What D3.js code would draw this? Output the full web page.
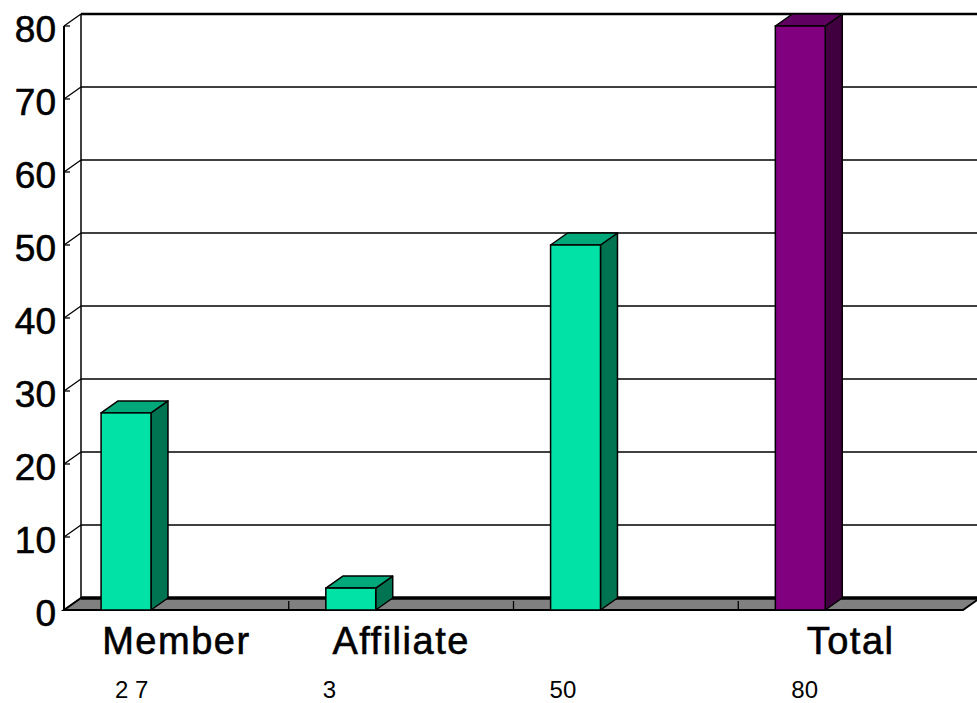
<!DOCTYPE html>
<html>
  <head>
    <meta charset="utf-8">
    <title>Members</title>
    <script src="https://d3js.org/d3.v7.min.js"></script>
    <style>
      body { margin: 0; background: #fff; }
      text { font-family: "Liberation Sans", Arial, sans-serif; fill: #000; }
    </style>
  </head>
  <body>
    <script>
      // data
      const categories = ["Member", "Affiliate", "", "Total"];
      const values = [27, 3, 50, 80];
      const valueLabels = ["2 7", "3", "50", "80"];
      const yTicks = [0, 10, 20, 30, 40, 50, 60, 70, 80];

      const width = 977, height = 703;
      // depth of the 3d box
      const depth = { dx: 17, dy: -12 };

      const svg = d3.select("body")
        .append("svg")
        .attr("width", width)
        .attr("height", height);

      const x = d3.scaleBand()
        .domain(d3.range(categories.length))
        .range([64, 963])
        .padding(0);

      const y = d3.scaleLinear()
        .domain([0, 80])
        .range([610, 26]);

      const bw = x.bandwidth();
      const barOff = bw * 0.165, barW = bw * 0.222;

      const x0 = x.range()[0], x1 = x.range()[1];

      // back wall gridlines
      svg.append("g").selectAll("line")
        .data(yTicks.filter(d => d > 0))
        .join("line")
        .attr("x1", x0 + depth.dx)
        .attr("x2", width + 5)
        .attr("y1", d => y(d) + depth.dy)
        .attr("y2", d => y(d) + depth.dy)
        .attr("stroke", "#000")
        .attr("stroke-width", d => d === 80 ? 2.5 : 1.5);

      // back wall left edge
      svg.append("line")
        .attr("x1", x0 + depth.dx).attr("x2", x0 + depth.dx)
        .attr("y1", y(80) + depth.dy).attr("y2", y(0) + depth.dy)
        .attr("stroke", "#000").attr("stroke-width", 1.5);

      // side wall diagonals + ticks
      const side = svg.append("g");
      side.selectAll(".diag")
        .data(yTicks)
        .join("line")
        .attr("class", "diag")
        .attr("x1", x0).attr("y1", d => y(d))
        .attr("x2", x0 + depth.dx).attr("y2", d => y(d) + depth.dy)
        .attr("stroke", "#000").attr("stroke-width", 1.3);
      side.selectAll(".tk")
        .data(yTicks)
        .join("line")
        .attr("class", "tk")
        .attr("x1", x0).attr("y1", d => y(d))
        .attr("x2", x0 + 6).attr("y2", d => y(d))
        .attr("stroke", "#000").attr("stroke-width", 1.3);

      // front axis line
      svg.append("line")
        .attr("x1", x0).attr("x2", x0)
        .attr("y1", y(80)).attr("y2", y(0))
        .attr("stroke", "#000").attr("stroke-width", 2);

      // y tick labels
      svg.append("g").selectAll("text")
        .data(yTicks)
        .join("text")
        .attr("x", 56)
        .attr("y", d => y(d) + 3)
        .attr("text-anchor", "end")
        .attr("dominant-baseline", "central")
        .attr("font-size", 37)
        .attr("stroke", "#000").attr("stroke-width", 0.6)
        .text(d => d);

      // floor
      const fy = y(0);
      svg.append("path")
        .attr("d", `M${x0},${fy} L${x1},${fy} L${x1 + depth.dx},${fy + depth.dy} L${x0 + depth.dx},${fy + depth.dy} Z`)
        .attr("fill", "#808080")
        .attr("stroke", "#000")
        .attr("stroke-width", 2);
      svg.append("line")
        .attr("x1", x0 + depth.dx).attr("x2", width + 5)
        .attr("y1", fy + depth.dy).attr("y2", fy + depth.dy)
        .attr("stroke", "#000").attr("stroke-width", 3.5);

      // category ticks on the floor front edge
      svg.append("g").selectAll("line")
        .data(d3.range(1, categories.length))
        .join("line")
        .attr("x1", d => x(d)).attr("x2", d => x(d))
        .attr("y1", fy).attr("y2", fy - 9)
        .attr("stroke", "#000").attr("stroke-width", 1.3);

      // bars
      const colors = [
        { front: "#00E2A6", top: "#00A87A", side: "#007350" },
        { front: "#00E2A6", top: "#00A87A", side: "#007350" },
        { front: "#00E2A6", top: "#00A87A", side: "#007350" },
        { front: "#800080", top: "#600060", side: "#400040" }
      ];
      const bars = svg.append("g").selectAll("g")
        .data(values)
        .join("g");
      bars.append("path") // side
        .attr("d", (d, i) => {
          const bx = x(i) + barOff + barW, ty = y(d);
          return `M${bx},${fy} L${bx},${ty} L${bx + depth.dx},${ty + depth.dy} L${bx + depth.dx},${fy + depth.dy} Z`;
        })
        .attr("fill", (d, i) => colors[i].side)
        .attr("stroke", "#000").attr("stroke-width", 1.5).attr("stroke-linejoin", "round");
      bars.append("path") // top
        .attr("d", (d, i) => {
          const bx = x(i) + barOff, ty = y(d);
          return `M${bx},${ty} L${bx + barW},${ty} L${bx + barW + depth.dx},${ty + depth.dy} L${bx + depth.dx},${ty + depth.dy} Z`;
        })
        .attr("fill", (d, i) => colors[i].top)
        .attr("stroke", "#000").attr("stroke-width", 1.5).attr("stroke-linejoin", "round");
      bars.append("rect") // front
        .attr("x", (d, i) => x(i) + barOff)
        .attr("y", d => y(d))
        .attr("width", barW)
        .attr("height", d => fy - y(d))
        .attr("fill", (d, i) => colors[i].front)
        .attr("stroke", "#000").attr("stroke-width", 1.5);

      // category labels
      svg.append("g").selectAll("text")
        .data(categories)
        .join("text")
        .attr("x", (d, i) => x(i) + bw / 2)
        .attr("y", 654)
        .attr("text-anchor", "middle")
        .attr("font-size", 38)
        .attr("letter-spacing", 1.5)
        .attr("stroke", "#000").attr("stroke-width", 0.6)
        .text(d => d);

      // value labels under the categories
      const nudge = [14, -3, -1, 16];
      svg.append("g").selectAll("text")
        .data(valueLabels)
        .join("text")
        .attr("x", (d, i) => x(i) + barOff + nudge[i])
        .attr("y", 698)
        .attr("font-size", 24)
        .attr("xml:space", "preserve")
        .style("white-space", "pre")
        .text(d => d);
    </script>
  </body>
</html>
